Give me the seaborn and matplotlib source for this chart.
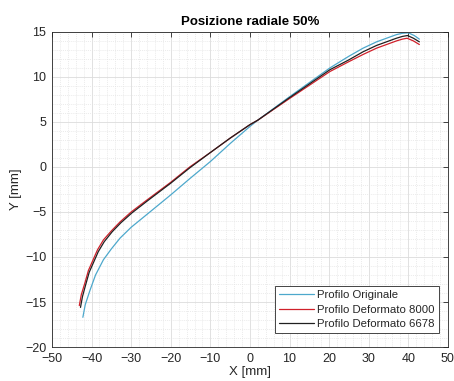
import matplotlib
matplotlib.use("Agg")
import matplotlib.pyplot as plt
import seaborn as sns
import pandas as pd
from matplotlib.ticker import MultipleLocator

# Profilo Originale
x_orig = [-42.2, -41.6, -40.4, -39.0, -37.0, -35.0, -32.8, -30.0, -26.1, -20.0, -15.2, -10.0, -5.0, 0.0, 2.0, 10.0, 20.2, 25.0, 28.6, 32.0, 34.5, 37.0, 38.5, 40.0, 41.5, 42.8]
y_orig = [-16.7, -15.3, -13.7, -12.0, -10.3, -9.1, -7.9, -6.7, -5.3, -3.1, -1.3, 0.6, 2.6, 4.5, 5.2, 7.8, 11.0, 12.3, 13.2, 13.9, 14.3, 14.7, 14.85, 14.9, 14.6, 14.2]

# Profilo Deformato 8000
x_d8000 = [-43.1, -42.6, -41.7, -40.8, -39.6, -38.5, -37.0, -35.0, -32.8, -30.0, -26.1, -20.0, -15.2, -10.0, -5.0, 0.0, 2.0, 10.0, 20.2, 25.0, 28.6, 32.0, 34.5, 37.0, 38.5, 39.7, 41.3, 42.8]
y_d8000 = [-15.4, -14.2, -12.9, -11.5, -10.3, -9.2, -8.1, -7.1, -6.1, -5.0, -3.7, -1.7, 0.0, 1.6, 3.2, 4.7, 5.2, 7.6, 10.6, 11.7, 12.5, 13.2, 13.6, 14.0, 14.2, 14.3, 14.0, 13.6]

# Profilo Deformato 6678
x_d6678 = [-42.8, -42.3, -41.5, -40.6, -39.4, -38.3, -36.8, -34.8, -32.6, -29.8, -26.0, -20.0, -15.2, -10.0, -5.0, 0.0, 2.0, 10.0, 20.2, 25.0, 28.6, 32.0, 34.5, 37.0, 38.5, 39.8, 41.3, 42.8]
y_d6678 = [-15.6, -14.4, -13.1, -11.7, -10.5, -9.4, -8.3, -7.2, -6.2, -5.1, -3.8, -1.8, -0.1, 1.6, 3.2, 4.7, 5.2, 7.7, 10.8, 11.9, 12.8, 13.5, 13.9, 14.3, 14.5, 14.6, 14.3, 13.9]

labels = ["Profilo Originale", "Profilo Deformato 8000", "Profilo Deformato 6678"]
colors = ["#4DA8CC", "#D0202A", "#202020"]

frames = []
for lab, xs, ys in zip(labels, [x_orig, x_d8000, x_d6678], [y_orig, y_d8000, y_d6678]):
    frames.append(pd.DataFrame({"x": xs, "y": ys, "serie": lab}))
df = pd.concat(frames, ignore_index=True)

sns.set_style("white")
plt.rcParams["font.family"] = ["Liberation Sans", "DejaVu Sans"]

fig = plt.figure(figsize=(4.54, 3.81), dpi=100)
ax = fig.add_axes([0.1145, 0.0892, 0.872, 0.827])

sns.lineplot(data=df, x="x", y="y", hue="serie", hue_order=labels,
             palette=colors, sort=False, estimator=None, units="serie",
             linewidth=0.9, ax=ax)

ax.set_xlim(-50, 50)
ax.set_ylim(-20, 15)
ax.xaxis.set_major_locator(MultipleLocator(10))
ax.yaxis.set_major_locator(MultipleLocator(5))
ax.xaxis.set_minor_locator(MultipleLocator(2))
ax.yaxis.set_minor_locator(MultipleLocator(1))
ax.grid(True, which="major", color="#DCDCDC", linewidth=0.6, linestyle="-")
ax.grid(True, which="minor", color="#E4E4E4", linewidth=0.5, linestyle=(0, (1.5, 1.5)))
ax.set_axisbelow(True)

ax.tick_params(which="major", direction="in", length=3.5, width=0.6, top=True, right=True,
               labelsize=9, colors="#262626", pad=4)
ax.tick_params(which="minor", length=0, top=True, right=True)
for s in ax.spines.values():
    s.set_color("#262626")
    s.set_linewidth(0.6)

ax.set_xlabel("X [mm]", fontsize=9.5, color="#262626", labelpad=1)
ax.set_ylabel("Y [mm]", fontsize=9.5, color="#262626", labelpad=2)
ax.set_title("Posizione radiale 50%", fontsize=9.5, fontweight="bold", color="#000000", pad=5)

leg = ax.legend(loc="lower right", bbox_to_anchor=(0.977, 0.044), fontsize=8.2, frameon=True,
                fancybox=False, edgecolor="#262626", framealpha=1, borderaxespad=0,
                handlelength=3.1, handletextpad=0.3, labelspacing=0.4, borderpad=0.35)
leg.get_frame().set_linewidth(0.6)

fig.savefig("out.png", dpi=100)
